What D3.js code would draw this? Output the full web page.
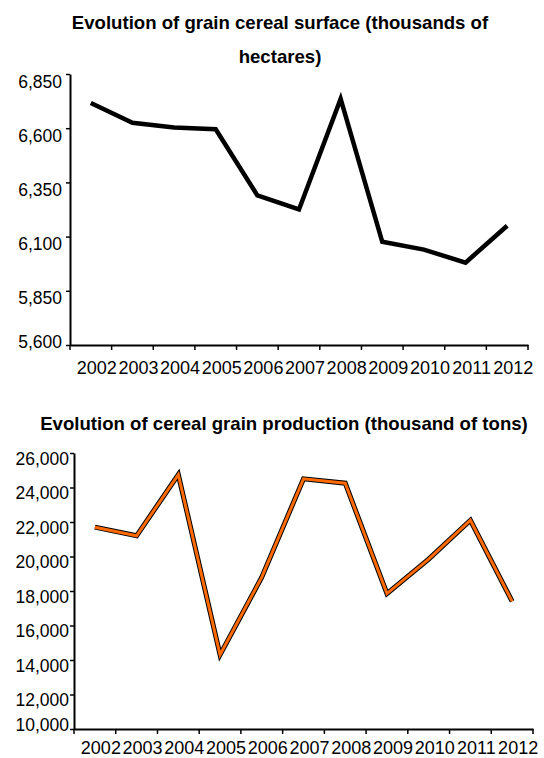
<!DOCTYPE html>
<html>
<head>
<meta charset="utf-8">
<script src="https://cdn.jsdelivr.net/npm/d3@7"></script>
<style>
  body { margin: 0; background: #fff; }
  svg { display: block; }
  text { font-family: "Liberation Sans", Arial, Helvetica, sans-serif; fill: #000; }
</style>
</head>
<body>
<svg id="chart" width="544" height="758"></svg>
<script>
// Years shared by both panels
const years = ["2002", "2003", "2004", "2005", "2006", "2007", "2008", "2009", "2010", "2011", "2012"];

// Grain cereal surface, thousands of hectares
const surfaceValues = [6716, 6625, 6603, 6595, 6290, 6225, 6735, 6076, 6040, 5980, 6150];
const surfaceTicks = [5600, 5850, 6100, 6350, 6600, 6850];
const surfaceTitle = ["Evolution of grain cereal surface (thousands of", "hectares)"];

// Cereal grain production, thousand of tons
const productionValues = [21700, 21200, 24750, 14300, 18800, 24500, 24250, 17850, 19850, 22100, 17400];
const productionTicks = [10000, 12000, 14000, 16000, 18000, 20000, 22000, 24000, 26000];
const productionTitle = ["Evolution of cereal grain production (thousand of tons)"];

const svg = d3.select("#chart");
const fmt = d3.format(",");

function drawPanel(cfg) {
  const g = svg.append("g");

  // Title
  cfg.title.forEach((line, i) => {
    g.append("text")
      .attr("x", cfg.titleX)
      .attr("y", cfg.titleY + i * cfg.titleGap)
      .attr("text-anchor", "middle")
      .attr("font-size", 18.6)
      .attr("font-weight", "bold")
      .text(line);
  });

  const x = d3.scaleBand().domain(years).range([cfg.left, cfg.right]).paddingInner(0).paddingOuter(0);
  const y = d3.scaleLinear().domain([cfg.ticks[0], cfg.ticks[cfg.ticks.length - 1]]).range([cfg.bottom, cfg.top]);

  // Y axis
  const yAxis = g.append("g")
    .attr("transform", `translate(${cfg.left},0)`)
    .call(d3.axisLeft(y).tickValues(cfg.ticks).tickFormat(fmt).tickSize(4).tickSizeOuter(0).tickPadding(cfg.yPad));
  yAxis.select(".domain").attr("stroke", "#000").attr("stroke-width", 2);
  yAxis.selectAll(".tick line").attr("stroke", "#000").attr("stroke-width", 1.5);
  yAxis.selectAll(".tick text")
    .attr("font-size", 17.5)
    .attr("font-family", null)
    .attr("dy", null)
    .attr("dominant-baseline", "central")
    .attr("y", d => Math.min(y(d) + cfg.yLabelShift, cfg.bottom - cfg.yLabelFloor) - y(d));

  // X axis: category labels inside bands, tick marks on band boundaries
  const xAxis = g.append("g")
    .attr("transform", `translate(0,${cfg.bottom})`)
    .call(d3.axisBottom(x).tickSize(0).tickSizeOuter(0).tickPadding(0));
  xAxis.select(".domain").attr("stroke", "#000").attr("stroke-width", 2);
  xAxis.selectAll(".tick text")
    .attr("font-size", 18)
    .attr("font-family", null)
    .attr("dy", null)
    .attr("x", cfg.xLabelShift)
    .attr("y", cfg.xLabelY);

  const bounds = years.map(d => x(d)).concat([x.range()[1]]);
  g.append("g").selectAll("line").data(bounds).join("line")
    .attr("x1", d => d).attr("x2", d => d)
    .attr("y1", cfg.bottom).attr("y2", cfg.bottom + 5)
    .attr("stroke", "#000").attr("stroke-width", 1.5);

  const line = d3.line()
    .x((d, i) => x(years[i]) + x.bandwidth() / 2)
    .y(d => y(d));

  cfg.strokes.forEach(s => {
    g.append("path")
      .datum(cfg.values)
      .attr("d", line)
      .attr("fill", "none")
      .attr("stroke", s.color)
      .attr("stroke-width", s.width)
      .attr("stroke-linejoin", "miter")
      .attr("stroke-linecap", "butt");
  });
}

drawPanel({
  title: surfaceTitle, titleX: 280, titleY: 29, titleGap: 34,
  values: surfaceValues, ticks: surfaceTicks,
  left: 70, right: 528, top: 74, bottom: 345,
  yPad: 4, yLabelShift: 7, yLabelFloor: 4,
  xLabelShift: 6, xLabelY: 29,
  strokes: [{ color: "#000", width: 4.5 }]
});

drawPanel({
  title: productionTitle, titleX: 284, titleY: 430, titleGap: 34,
  values: productionValues, ticks: productionTicks,
  left: 74, right: 533, top: 453, bottom: 729,
  yPad: 1, yLabelShift: 5, yLabelFloor: 5,
  xLabelShift: 6, xLabelY: 25,
  strokes: [{ color: "#000", width: 5 }, { color: "#ff6a00", width: 3 }]
});
</script>
</body>
</html>
